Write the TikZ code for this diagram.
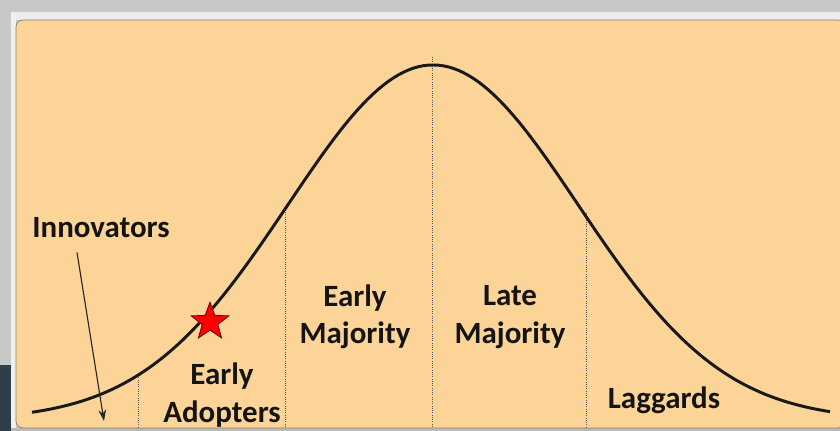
\documentclass[tikz,border=0pt]{standalone}
\usepackage{fontspec}
\setmainfont{Carlito}
\usepackage{xcolor}
\usetikzlibrary{shapes.geometric, arrows.meta, positioning}

\definecolor{peach}{HTML}{FDD498}
\definecolor{framegray}{HTML}{C8C8C8}
\definecolor{slate}{HTML}{2F3E47}
\definecolor{rimline}{HTML}{8E7F74}

\begin{document}
\begin{tikzpicture}[x=0.025cm, y=-0.025cm,
    label/.style={font=\fontsize{22}{26.5}\selectfont\bfseries, text=black!92, align=center, inner sep=0pt},
    curve/.style={line width=2.1pt, black!90},
    divider/.style={densely dotted, line width=0.6pt, black!65},
    arr/.style={line width=0.8pt, -{Stealth[length=8pt, width=5.5pt]}, black!85}
]
\useasboundingbox (0,0) rectangle (840,431);

% window frame
\fill[framegray] (0,0) rectangle (840,431);
\fill[gray!15] (11,12) rectangle (840,20);
\fill[gray!12] (11,12) rectangle (16,431);
\fill[slate] (0,365) rectangle (11,431);
\fill[gray!55] (11,428) rectangle (840,431);
\filldraw[fill=peach, draw=rimline, line width=0.5pt, rounded corners=5] (16,20) rectangle (845,428);

% dividers
\draw[divider] (138,375) -- (138,428);
\draw[divider] (285,210) -- (285,428);
\draw[divider] (432,57) -- (432,428);
\draw[divider] (586,213) -- (586,428);

% bell curve
\draw[curve] plot[domain=32:830, samples=160] (\x, {420-355*exp(-0.5*((\x-433)/145)^2)});

\node[star, star points=5, star point ratio=2.4, fill=red, draw=red!45!black, line width=0.6pt, minimum size=28pt, inner sep=0pt] (star) at (210,322) {};

% labels
\node[label] (innov) at (101,228) {Innovators};
\node[label] (earlyad) at (222,395) {Early\\Adopters};
\node[label] (earlymaj) at (355,317) {Early\\Majority};
\node[label] (latemaj) at (510,317) {Late\\Majority};
\node[label] (laggards) at (664,400) {Laggards};

\coordinate (innovtip) at (104,421);
\draw[arr] (innov.south) ++(-24,14) -- (innovtip);

\end{tikzpicture}
\end{document}
